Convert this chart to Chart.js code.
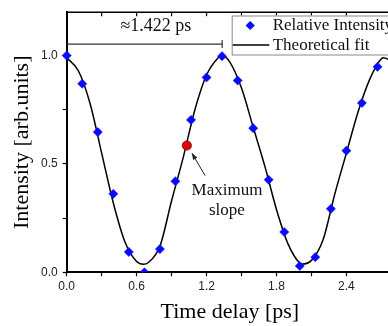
<!DOCTYPE html>
<html>
<head>
<meta charset="utf-8">
<script src="https://cdn.jsdelivr.net/npm/chart.js@4.4.1/dist/chart.umd.min.js"></script>
<style>
  html, body { margin: 0; padding: 0; background: #fff; overflow: hidden; }
  #wrap { position: relative; width: 400px; height: 326px; }
</style>
</head>
<body>
<div id="wrap"><canvas id="c"></canvas></div>
<script>
// Measured intensity versus pump-probe delay
const delayPs = [0, 0.133, 0.267, 0.4, 0.533, 0.667, 0.8, 0.933, 1.067, 1.2, 1.333,
                 1.467, 1.6, 1.733, 1.867, 2.0, 2.133, 2.267, 2.4, 2.533, 2.667];
const relIntensity = [1.0, 0.87, 0.647, 0.362, 0.094, 0.0, 0.107, 0.42, 0.703, 0.899, 0.997,
                      0.885, 0.665, 0.427, 0.186, 0.029, 0.07, 0.293, 0.561, 0.781, 0.948];

// Fitted oscillation
const fitDelayPs = [0, 0.1, 0.2, 0.3, 0.4, 0.5, 0.6, 0.66, 0.7, 0.8, 0.9, 1.0, 1.1, 1.2, 1.3, 1.33,
                    1.4, 1.5, 1.6, 1.7, 1.8, 1.9, 2.0, 2.02, 2.1, 2.2, 2.3, 2.4, 2.5, 2.6, 2.7, 2.72, 2.8];
const fitIntensity = [0.99, 0.93, 0.78, 0.55, 0.32, 0.14, 0.05, 0.037, 0.045, 0.12, 0.33, 0.53, 0.75, 0.91, 0.99, 1.0,
                      0.97, 0.85, 0.67, 0.49, 0.29, 0.13, 0.042, 0.038, 0.055, 0.15, 0.36, 0.55, 0.74, 0.89, 0.985, 0.99, 0.97];

// Point of steepest rise
const slopeDelayPs = [1.031];
const slopeIntensity = [0.585];

const xTickLabels = ['0.0', '0.6', '1.2', '1.8', '2.4'];
const yTickLabels = ['0.0', '0.5', '1.0'];
const seriesNames = ['Relative Intensity', 'Theoretical fit'];

// Period bracket and note
const periodSpanPs = [0, 1.334];
const periodLevel = 1.053;
const periodLabel = '\u22481.422 ps';
const slopeNote = ['Maximum', 'slope'];

const SERIF = "'Liberation Serif', 'Times New Roman', serif";
const SANS = "'Liberation Sans', Arial, sans-serif";
const BLUE = '#0a0aff';

function toXY(xs, ys) { return xs.map((v, i) => ({ x: v, y: ys[i] })); }

const decorations = {
  id: 'decorations',
  afterDatasetsDraw(chart) {
    const { ctx, chartArea: a, scales: { x, y } } = chart;
    ctx.save();

    // upper frame with inward ticks
    ctx.strokeStyle = '#000';
    ctx.lineWidth = 1.6;
    ctx.beginPath(); ctx.moveTo(a.left, a.top); ctx.lineTo(a.right + 20, a.top); ctx.stroke();
    ctx.lineWidth = 1.2;
    x.ticks.forEach(t => {
      const px = x.getPixelForValue(t.value);
      ctx.beginPath(); ctx.moveTo(px, a.top); ctx.lineTo(px, a.top + 4); ctx.stroke();
    });

    // period bracket
    const bx0 = x.getPixelForValue(periodSpanPs[0]);
    const bx1 = x.getPixelForValue(periodSpanPs[1]);
    const by = y.getPixelForValue(periodLevel);
    ctx.strokeStyle = '#333';
    ctx.lineWidth = 1.2;
    ctx.beginPath(); ctx.moveTo(bx0, by); ctx.lineTo(bx1, by); ctx.stroke();
    ctx.beginPath(); ctx.moveTo(bx1, by - 4); ctx.lineTo(bx1, by + 4); ctx.stroke();
    ctx.fillStyle = '#111';
    ctx.font = '18px ' + SERIF;
    ctx.textAlign = 'center';
    ctx.textBaseline = 'middle';
    ctx.fillText(periodLabel, x.getPixelForValue(0.765), y.getPixelForValue(1.134));

    // arrow to the steepest point
    const ax0 = x.getPixelForValue(1.188), ay0 = y.getPixelForValue(0.446);
    const ax1 = x.getPixelForValue(1.074), ay1 = y.getPixelForValue(0.55);
    ctx.strokeStyle = '#222';
    ctx.lineWidth = 1;
    ctx.beginPath(); ctx.moveTo(ax0, ay0); ctx.lineTo(ax1, ay1); ctx.stroke();
    const ang = Math.atan2(ay1 - ay0, ax1 - ax0);
    ctx.fillStyle = '#222';
    ctx.beginPath();
    ctx.moveTo(ax1, ay1);
    ctx.lineTo(ax1 - 7 * Math.cos(ang - 0.35), ay1 - 7 * Math.sin(ang - 0.35));
    ctx.lineTo(ax1 - 7 * Math.cos(ang + 0.35), ay1 - 7 * Math.sin(ang + 0.35));
    ctx.closePath(); ctx.fill();

    ctx.fillStyle = '#111';
    ctx.font = '17px ' + SERIF;
    ctx.fillText(slopeNote[0], x.getPixelForValue(1.375), y.getPixelForValue(0.375));
    ctx.fillText(slopeNote[1], x.getPixelForValue(1.375), y.getPixelForValue(0.284));

    // legend
    const lx = a.left + 165, ly = a.top + 3.3;
    ctx.fillStyle = '#fff';
    ctx.fillRect(lx, ly, 220, 39);
    ctx.strokeStyle = '#8a8a8a';
    ctx.lineWidth = 1;
    ctx.strokeRect(lx + 0.5, ly + 0.5, 220, 39);
    ctx.fillStyle = BLUE;
    const dx = lx + 18.5, dy = ly + 10;
    ctx.beginPath();
    ctx.moveTo(dx - 4.6, dy); ctx.lineTo(dx, dy - 4.6); ctx.lineTo(dx + 4.6, dy); ctx.lineTo(dx, dy + 4.6);
    ctx.closePath(); ctx.fill();
    ctx.strokeStyle = '#000';
    ctx.lineWidth = 1.5;
    ctx.beginPath(); ctx.moveTo(lx + 1, ly + 29.4); ctx.lineTo(lx + 37.6, ly + 29.4); ctx.stroke();
    ctx.fillStyle = '#111';
    ctx.font = '17px ' + SERIF;
    ctx.textAlign = 'left';
    ctx.fillText(seriesNames[0], lx + 41, ly + 10.3);
    ctx.fillText(seriesNames[1], lx + 41, ly + 29.6);

    ctx.restore();
  }
};

new Chart(document.getElementById('c'), {
  type: 'scatter',
  data: {
    datasets: [
      {
        label: seriesNames[1],
        type: 'line',
        data: toXY(fitDelayPs, fitIntensity),
        borderColor: '#000',
        borderWidth: 1.5,
        pointRadius: 0,
        cubicInterpolationMode: 'monotone',
        fill: false,
        clip: false,
        order: 3
      },
      {
        label: seriesNames[0],
        data: toXY(delayPs, relIntensity),
        pointStyle: 'rectRot',
        pointRadius: 4.6,
        backgroundColor: BLUE,
        borderColor: BLUE,
        borderWidth: 0.5,
        clip: { left: false, top: false, right: false, bottom: 0 },
        order: 2
      },
      {
        label: 'Maximum slope',
        data: toXY(slopeDelayPs, slopeIntensity),
        pointStyle: 'circle',
        pointRadius: 4.6,
        backgroundColor: '#e00000',
        borderColor: '#7a0000',
        borderWidth: 0.8,
        order: 1
      }
    ]
  },
  options: {
    responsive: true,
    maintainAspectRatio: false,
    animation: false,
    layout: { padding: { top: 10, right: 7, bottom: 0, left: 0 } },
    plugins: { legend: { display: false }, tooltip: { enabled: false } },
    scales: {
      x: {
        type: 'linear',
        position: 'bottom',
        min: 0,
        max: 2.8,
        afterFit(s) { s.height = 53.7; },
        ticks: {
          stepSize: 0.3,
          autoSkip: false,
          maxRotation: 0,
          padding: 3,
          color: '#222',
          font: { family: SANS, size: 12 },
          callback(v) {
            const k = v / 0.6;
            if (Math.abs(k - Math.round(k)) < 1e-6) return xTickLabels[Math.round(k)] ?? '';
            return '';
          }
        },
        grid: { display: true, drawOnChartArea: false, drawTicks: true, tickLength: 4, tickColor: '#000', tickWidth: 1.2 },
        border: { display: true, color: '#000', width: 2 },
        title: { display: true, text: 'Time delay [ps]', color: '#000', font: { family: SERIF, size: 22 }, padding: { top: 0, bottom: 1 } }
      },
      y: {
        type: 'linear',
        position: 'left',
        min: 0,
        max: 1.2,
        afterFit(s) { s.width = 66.7; },
        afterBuildTicks(s) { s.ticks = s.ticks.filter(t => t.value <= 1.0001); },
        ticks: {
          stepSize: 0.25,
          autoSkip: false,
          padding: 5,
          color: '#222',
          font: { family: SANS, size: 12 },
          callback(v) {
            const k = v / 0.5;
            if (Math.abs(k - Math.round(k)) < 1e-6) return yTickLabels[Math.round(k)] ?? '';
            return '';
          }
        },
        grid: { display: true, drawOnChartArea: false, drawTicks: true, tickLength: 4, tickColor: '#000', tickWidth: 1.2 },
        border: { display: true, color: '#000', width: 2 },
        title: { display: true, text: 'Intensity [arb.units]', color: '#000', font: { family: SERIF, size: 22 }, padding: { top: 9, bottom: 0 } }
      }
    }
  },
  plugins: [decorations]
});
</script>
</body>
</html>
